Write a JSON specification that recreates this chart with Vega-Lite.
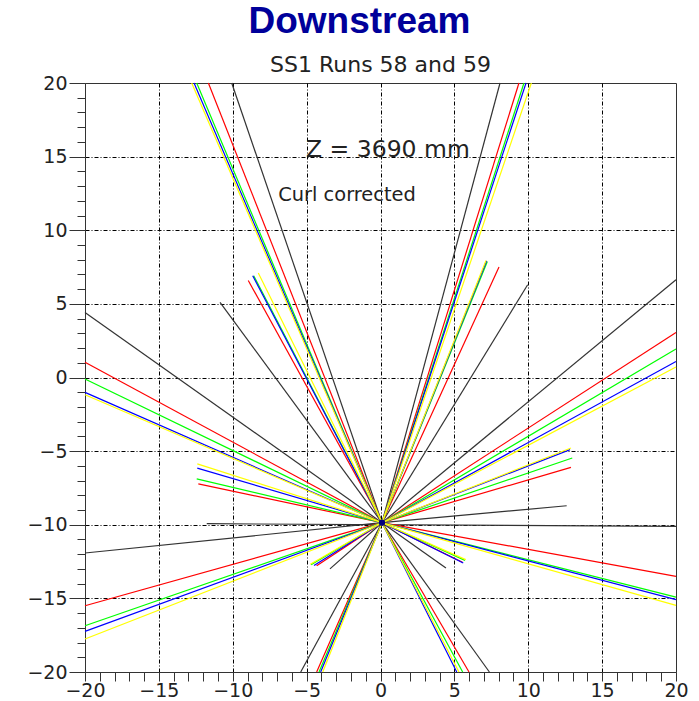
{
  "$schema": "https://vega.github.io/schema/vega-lite/v6.json",
  "width": 591,
  "height": 589,
  "autosize": {"type": "none"},
  "padding": {"left": 85, "top": 83, "right": 23, "bottom": 29},
  "background": "white",
  "title": {
    "text": "Downstream",
    "frame": "group",
    "anchor": "middle",
    "dx": -21,
    "offset": 13,
    "font": "Liberation Sans",
    "fontSize": 37,
    "fontWeight": "bold",
    "color": "#00009a"
  },
  "config": {"view": {"stroke": "#333333", "strokeWidth": 1}},
  "datasets": {
    "tracks": [
      {"colour": "black", "x": 0.1, "y": -9.86, "x2": -10.07, "y2": 20},
      {"colour": "black", "x": 0.1, "y": -9.86, "x2": -10.86, "y2": 5.1},
      {"colour": "black", "x": 0.1, "y": -9.86, "x2": -20, "y2": 4.42},
      {"colour": "black", "x": 0.1, "y": -9.86, "x2": -20, "y2": -11.92},
      {"colour": "black", "x": 0.1, "y": -9.86, "x2": -3.42, "y2": -13.0},
      {"colour": "black", "x": 0.1, "y": -9.86, "x2": -5.4, "y2": -20},
      {"colour": "black", "x": 0.1, "y": -9.86, "x2": 8.09, "y2": 20},
      {"colour": "black", "x": 0.1, "y": -9.86, "x2": 9.96, "y2": 6.3},
      {"colour": "black", "x": 0.1, "y": -9.86, "x2": 20, "y2": 6.64},
      {"colour": "black", "x": 0.1, "y": -9.86, "x2": 12.6, "y2": -8.71},
      {"colour": "black", "x": 0.1, "y": -9.86, "x2": 4.43, "y2": -12.94},
      {"colour": "black", "x": 0.1, "y": -9.86, "x2": 7.37, "y2": -20},
      {"colour": "black", "x": -11.76, "y": -9.93, "x2": 20, "y2": -10.11},

      {"colour": "red", "x": 0.1, "y": -9.86, "x2": -11.65, "y2": 20},
      {"colour": "red", "x": 0.1, "y": -9.86, "x2": -8.95, "y2": 6.59},
      {"colour": "red", "x": 0.1, "y": -9.86, "x2": -20, "y2": 1.03},
      {"colour": "red", "x": 0.1, "y": -9.86, "x2": -12.33, "y2": -7.23},
      {"colour": "red", "x": 0.1, "y": -9.86, "x2": -20, "y2": -15.5},
      {"colour": "red", "x": 0.1, "y": -9.86, "x2": -4.32, "y2": -12.78},
      {"colour": "red", "x": 0.1, "y": -9.86, "x2": -4.32, "y2": -20},
      {"colour": "red", "x": 0.1, "y": -9.86, "x2": 9.37, "y2": 20},
      {"colour": "red", "x": 0.1, "y": -9.86, "x2": 8.02, "y2": 7.5},
      {"colour": "red", "x": 0.1, "y": -9.86, "x2": 20, "y2": 3.06},
      {"colour": "red", "x": 0.1, "y": -9.86, "x2": 12.89, "y2": -6.1},
      {"colour": "red", "x": 0.1, "y": -9.86, "x2": 20, "y2": -13.51},
      {"colour": "red", "x": 0.1, "y": -9.86, "x2": 5.55, "y2": -12.55},
      {"colour": "red", "x": 0.1, "y": -9.86, "x2": 5.99, "y2": -20},

      {"colour": "green", "x": 0.1, "y": -9.86, "x2": -12.44, "y2": 20},
      {"colour": "green", "x": 0.1, "y": -9.86, "x2": -8.58, "y2": 6.91},
      {"colour": "green", "x": 0.1, "y": -9.86, "x2": -20, "y2": -0.1},
      {"colour": "green", "x": 0.1, "y": -9.86, "x2": -12.44, "y2": -6.89},
      {"colour": "green", "x": 0.1, "y": -9.86, "x2": -20, "y2": -16.86},
      {"colour": "green", "x": 0.1, "y": -9.86, "x2": -4.7, "y2": -12.72},
      {"colour": "green", "x": 0.1, "y": -9.86, "x2": -4.16, "y2": -20},
      {"colour": "green", "x": 0.1, "y": -9.86, "x2": 9.71, "y2": 20},
      {"colour": "green", "x": 0.1, "y": -9.86, "x2": 7.23, "y2": 7.88},
      {"colour": "green", "x": 0.1, "y": -9.86, "x2": 20, "y2": 1.94},
      {"colour": "green", "x": 0.1, "y": -9.86, "x2": 12.98, "y2": -5.47},
      {"colour": "green", "x": 0.1, "y": -9.86, "x2": 20, "y2": -14.91},
      {"colour": "green", "x": 0.1, "y": -9.86, "x2": 5.72, "y2": -12.42},
      {"colour": "green", "x": 0.1, "y": -9.86, "x2": 5.56, "y2": -20},

      {"colour": "blue", "x": 0.1, "y": -9.86, "x2": -12.62, "y2": 20},
      {"colour": "blue", "x": 0.1, "y": -9.86, "x2": -8.65, "y2": 6.91},
      {"colour": "blue", "x": 0.1, "y": -9.86, "x2": -20, "y2": -1.01},
      {"colour": "blue", "x": 0.1, "y": -9.86, "x2": -12.4, "y2": -6.15},
      {"colour": "blue", "x": 0.1, "y": -9.86, "x2": -20, "y2": -17.24},
      {"colour": "blue", "x": 0.1, "y": -9.86, "x2": -4.5, "y2": -12.76},
      {"colour": "blue", "x": 0.1, "y": -9.86, "x2": -4.05, "y2": -20},
      {"colour": "blue", "x": 0.1, "y": -9.86, "x2": 9.85, "y2": 20},
      {"colour": "blue", "x": 0.1, "y": -9.86, "x2": 7.18, "y2": 7.92},
      {"colour": "blue", "x": 0.1, "y": -9.86, "x2": 20, "y2": 1.09},
      {"colour": "blue", "x": 0.1, "y": -9.86, "x2": 12.83, "y2": -4.9},
      {"colour": "blue", "x": 0.1, "y": -9.86, "x2": 20, "y2": -15.09},
      {"colour": "blue", "x": 0.1, "y": -9.86, "x2": 5.6, "y2": -12.6},
      {"colour": "blue", "x": 0.1, "y": -9.86, "x2": 5.16, "y2": -20},

      {"colour": "yellow", "x": 0.1, "y": -9.86, "x2": -12.78, "y2": 20},
      {"colour": "yellow", "x": 0.1, "y": -9.86, "x2": -8.27, "y2": 7.1},
      {"colour": "yellow", "x": 0.1, "y": -9.86, "x2": -20, "y2": -1.17},
      {"colour": "yellow", "x": 0.1, "y": -9.86, "x2": -12.4, "y2": -5.87},
      {"colour": "yellow", "x": 0.1, "y": -9.86, "x2": -20, "y2": -17.76},
      {"colour": "yellow", "x": 0.1, "y": -9.86, "x2": -4.75, "y2": -12.68},
      {"colour": "yellow", "x": 0.1, "y": -9.86, "x2": -3.91, "y2": -20},
      {"colour": "yellow", "x": 0.1, "y": -9.86, "x2": 10.21, "y2": 20},
      {"colour": "yellow", "x": 0.1, "y": -9.86, "x2": 7.14, "y2": 7.95},
      {"colour": "yellow", "x": 0.1, "y": -9.86, "x2": 20, "y2": 0.71},
      {"colour": "yellow", "x": 0.1, "y": -9.86, "x2": 12.89, "y2": -4.79},
      {"colour": "yellow", "x": 0.1, "y": -9.86, "x2": 20, "y2": -15.48},
      {"colour": "yellow", "x": 0.1, "y": -9.86, "x2": 5.77, "y2": -12.37},
      {"colour": "yellow", "x": 0.1, "y": -9.86, "x2": 5.31, "y2": -20}
    ],
    "vertex": [{"x": 0.1, "y": -9.86}]
  },
  "layer": [
    {
      "data": {"name": "tracks"},
      "mark": {"type": "rule", "strokeWidth": 1.2},
      "encoding": {
        "x": {
          "field": "x",
          "type": "quantitative",
          "scale": {"domain": [-20, 20], "nice": false, "zero": false},
          "axis": {
            "title": null,
            "values": [-20, -19, -18, -17, -16, -15, -14, -13, -12, -11, -10, -9, -8, -7, -6, -5, -4, -3, -2, -1, 0, 1, 2, 3, 4, 5, 6, 7, 8, 9, 10, 11, 12, 13, 14, 15, 16, 17, 18, 19, 20],
            "tickCount": 41,
            "grid": true,
            "gridColor": "#000000",
            "gridDash": [4, 2, 1, 2],
            "gridWidth": 1,
            "gridOpacity": {"condition": {"test": "datum.value % 5 === 0 && abs(datum.value) < 20", "value": 1}, "value": 0},
            "tickSize": 9,
            "tickColor": "#333333",
            "domainColor": "#333333",
            "labelExpr": "datum.value % 5 === 0 ? datum.label : ''",
            "labelFont": "DejaVu Sans",
            "labelFontSize": 19,
            "labelColor": "#222222",
            "labelPadding": 0,
            "labelFlush": false,
            "labelOverlap": false,
            "labelBound": false
          }
        },
        "y": {
          "field": "y",
          "type": "quantitative",
          "scale": {"domain": [-20, 20], "nice": false, "zero": false},
          "axis": {
            "title": null,
            "values": [-20, -19, -18, -17, -16, -15, -14, -13, -12, -11, -10, -9, -8, -7, -6, -5, -4, -3, -2, -1, 0, 1, 2, 3, 4, 5, 6, 7, 8, 9, 10, 11, 12, 13, 14, 15, 16, 17, 18, 19, 20],
            "tickCount": 41,
            "grid": true,
            "gridColor": "#000000",
            "gridDash": [4, 2, 1, 2],
            "gridWidth": 1,
            "gridOpacity": {"condition": {"test": "datum.value % 5 === 0 && abs(datum.value) < 20", "value": 1}, "value": 0},
            "tickSize": {"condition": {"test": "datum.value % 5 === 0", "value": 16}, "value": 8},
            "tickColor": "#333333",
            "domainColor": "#333333",
            "labelExpr": "datum.value % 5 === 0 ? datum.label : ''",
            "labelFont": "DejaVu Sans",
            "labelFontSize": 19,
            "labelColor": "#222222",
            "labelPadding": 2,
            "labelFlush": false,
            "labelOverlap": false,
            "labelBound": false
          }
        },
        "x2": {"field": "x2"},
        "y2": {"field": "y2"},
        "color": {
          "field": "colour",
          "type": "nominal",
          "scale": {
            "domain": ["black", "red", "green", "blue", "yellow"],
            "range": ["#333333", "#ff0000", "#00ff00", "#0000ff", "#ffff00"]
          },
          "legend": null
        }
      }
    },
    {
      "data": {"name": "vertex"},
      "mark": {"type": "point", "filled": true, "color": "#000080", "opacity": 1, "size": 40},
      "encoding": {
        "x": {"field": "x", "type": "quantitative"},
        "y": {"field": "y", "type": "quantitative"}
      }
    },
    {
      "data": {"values": [{"label": "SS1 Runs 58 and 59", "x": 0, "y": 20.73}]},
      "mark": {"type": "text", "align": "center", "baseline": "alphabetic", "font": "DejaVu Sans", "fontSize": 22, "color": "#222222"},
      "encoding": {
        "text": {"field": "label"},
        "x": {"field": "x", "type": "quantitative"},
        "y": {"field": "y", "type": "quantitative"}
      }
    },
    {
      "data": {"values": [{"label": "Z = 3690 mm", "x": -5.04, "y": 15.0}]},
      "mark": {"type": "text", "align": "left", "baseline": "alphabetic", "font": "DejaVu Sans", "fontSize": 23.5, "color": "#222222"},
      "encoding": {
        "text": {"field": "label"},
        "x": {"field": "x", "type": "quantitative"},
        "y": {"field": "y", "type": "quantitative"}
      }
    },
    {
      "data": {"values": [{"label": "Curl corrected", "x": -6.92, "y": 11.96}]},
      "mark": {"type": "text", "align": "left", "baseline": "alphabetic", "font": "DejaVu Sans", "fontSize": 19.4, "color": "#222222"},
      "encoding": {
        "text": {"field": "label"},
        "x": {"field": "x", "type": "quantitative"},
        "y": {"field": "y", "type": "quantitative"}
      }
    }
  ]
}
